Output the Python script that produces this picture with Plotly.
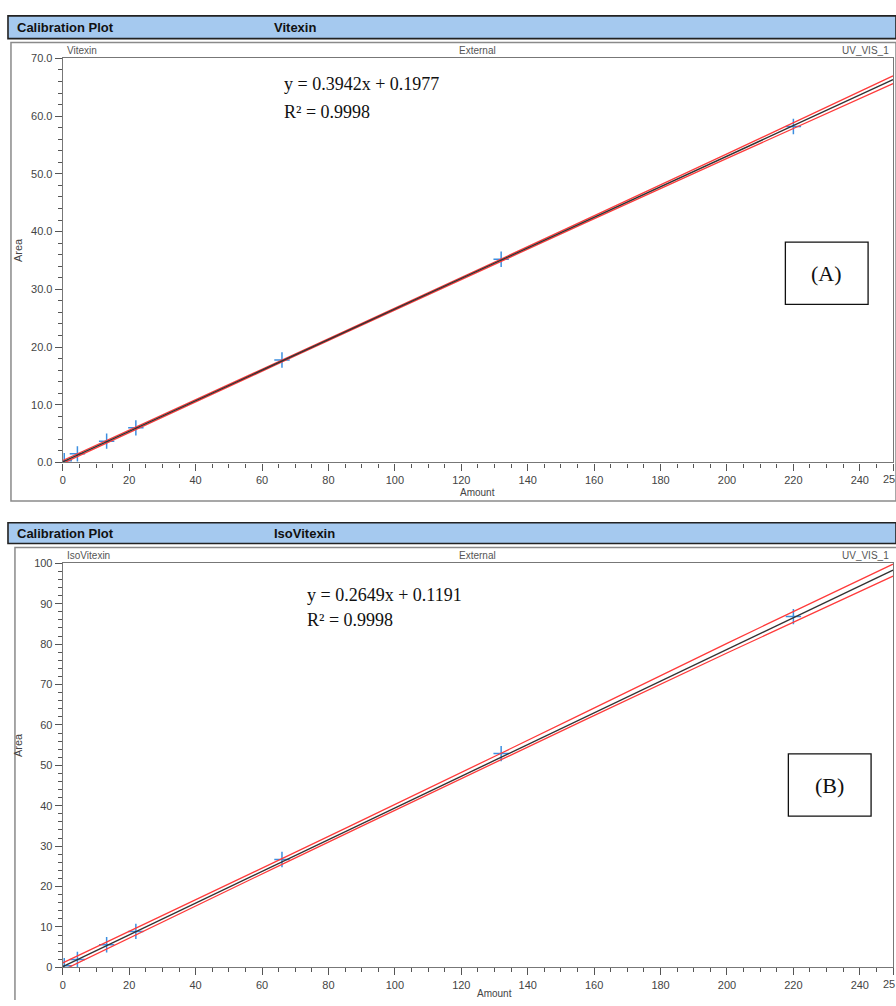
import plotly.graph_objects as go

W, H = 896, 1006

# ---------------- data ----------------
amount_pts = [0.44, 4.4, 13.2, 22.0, 66.0, 132.0, 220.0]
area_top = [0.3, 1.5, 3.7, 6.0, 17.75, 35.2, 58.2]
area_bot = [0.4, 1.96, 5.6, 8.9, 26.7, 52.9, 86.8]

fit_x = [0, 250]
fit_top = [0.10, 66.3]
fit_bot = [0.20, 98.3]

band_x = [0, 66, 132, 200, 250]
top_upper = [0.35, 17.75, 35.25, 53.45, 66.98]
top_lower = [-0.15, 17.41, 34.85, 52.67, 65.62]
bot_upper = [1.10, 26.90, 53.00, 80.20, 99.80]
bot_lower = [-0.70, 25.50, 51.40, 77.80, 96.80]

x_ticks = [0, 20, 40, 60, 80, 100, 120, 140, 160, 180, 200, 220, 240, 250]
x_ticktext = ["0", "20", "40", "60", "80", "100", "120", "140", "160", "180", "200",
              "220", "240", ""]
x_edge_label = "25"   # the 250 label, clipped by the page edge in the source
y_ticks_top = [0, 10, 20, 30, 40, 50, 60, 70]
y_ticks_bot = [0, 10, 20, 30, 40, 50, 60, 70, 80, 90, 100]

panels = [
    dict(name="Vitexin", eq="y = 0.3942x + 0.1977", r2="R² = 0.9998", tag="(A)"),
    dict(name="IsoVitexin", eq="y = 0.2649x + 0.1191", r2="R² = 0.9998", tag="(B)"),
]

def px(x):
    return x / W

def py(y):
    return 1 - y / H

fig = go.Figure()

geo = [
    dict(bar=(5, 10, 33), box=(8, 37, 501), top=53, bot=462, xlab=(476, 492),
         arealab=247, eq=(280, 79, 107), tagbox=(785, 239, 868, 302)),
    dict(bar=(5, 523, 544), box=(12, 548, 1010), top=564, bot=973, xlab=(493, 1006),
         arealab=748, eq=(303, 596, 621), tagbox=(788, 757, 871, 820)),
]

tickfont = dict(family="Liberation Sans, Arial", size=11, color="#444")
cross_col = "#3d8fe0"
red = "#ff3b3b"

series = [(area_top, fit_top, top_upper, top_lower, y_ticks_top, [0, 70], ".1f"),
          (area_bot, fit_bot, bot_upper, bot_lower, y_ticks_bot, [0, 100], "d")]

shapes = []
annotations = []

for i, (p, g, s) in enumerate(zip(panels, geo, series)):
    area, fit, up, lo, yt, yr, fmt = s
    xa = "x" if i == 0 else "x2"
    ya = "y" if i == 0 else "y2"
    fig.add_trace(go.Scatter(x=amount_pts, y=area, mode="markers", xaxis=xa, yaxis=ya,
                             marker=dict(symbol="cross-thin-open", size=11, color=cross_col,
                                         line=dict(color=cross_col, width=1.5)),
                             showlegend=False, hoverinfo="skip"))
    fig.add_trace(go.Scatter(x=band_x, y=up, mode="lines", xaxis=xa, yaxis=ya,
                             line=dict(color=red, width=1.3, shape="spline"),
                             showlegend=False, hoverinfo="skip"))
    fig.add_trace(go.Scatter(x=band_x, y=lo, mode="lines", xaxis=xa, yaxis=ya,
                             line=dict(color=red, width=1.3, shape="spline"),
                             showlegend=False, hoverinfo="skip"))
    fig.add_trace(go.Scatter(x=fit_x, y=fit, mode="lines", xaxis=xa, yaxis=ya,
                             line=dict(color="#333", width=1.4),
                             showlegend=False, hoverinfo="skip"))

    xdom = [px(60), px(893)]
    ydom = [py(g["bot"]), py(g["top"])]
    axkw = dict(showline=True, linecolor="#777", linewidth=1.2, mirror=True,
                ticks="outside", ticklen=7, tickwidth=1, tickcolor="#555",
                showgrid=False, zeroline=False, tickfont=tickfont)
    xaxis = dict(domain=xdom, range=[0, 250], tickmode="array", tickvals=x_ticks,
                 ticktext=x_ticktext, anchor=ya,
                 minor=dict(dtick=5, tick0=0, ticks="outside", ticklen=4,
                            tickcolor="#555", showgrid=False), **axkw)
    yaxis = dict(domain=ydom, range=yr, tickmode="array", tickvals=yt,
                 ticktext=[format(v, fmt) if fmt != "d" else str(v) for v in yt],
                 anchor=xa,
                 minor=dict(dtick=2, tick0=0, ticks="outside", ticklen=4,
                            tickcolor="#555", showgrid=False), **axkw)
    if i == 0:
        fig.update_layout(xaxis=xaxis, yaxis=yaxis)
    else:
        fig.update_layout(xaxis2=xaxis, yaxis2=yaxis)

    shapes.append(dict(type="line", xref=xa, xsizemode="pixel", xanchor=0, x0=-3, x1=-3,
                       yref=ya + " domain", y0=0, y1=1, line=dict(color="#777", width=1.2)))
    shapes.append(dict(type="line", yref=ya, ysizemode="pixel", yanchor=0, y0=-3, y1=-3,
                       xref=xa + " domain", x0=-0.004, x1=1, line=dict(color="#777", width=1.2)))

    bx, by0, by1 = g["bar"]
    shapes.append(dict(type="rect", xref="paper", yref="paper", x0=px(bx), x1=1.0,
                       y0=py(by1), y1=py(by0), fillcolor="#a5c9ef",
                       line=dict(color="#222", width=1.6), layer="below"))
    ox, oy0, oy1 = g["box"]
    if oy1 > H:
        shapes.append(dict(type="path", xref="paper", yref="paper",
                           path="M %f,0 L %f,%f L 1,%f" % (px(ox), px(ox), py(oy0), py(oy0)),
                           line=dict(color="#8a8a8a", width=1.5), layer="below"))
    else:
        shapes.append(dict(type="rect", xref="paper", yref="paper", x0=px(ox), x1=1.0,
                           y0=py(oy1), y1=py(oy0), line=dict(color="#8a8a8a", width=1.5),
                           layer="below"))
    tx0, ty0, tx1, ty1 = g["tagbox"]
    shapes.append(dict(type="rect", xref="paper", yref="paper", x0=px(tx0), x1=px(tx1),
                       y0=py(ty1), y1=py(ty0), line=dict(color="#111", width=1.3),
                       fillcolor="white"))

    ymid = (by0 + by1) / 2
    hdr = dict(family="Liberation Sans, Arial", size=13, color="#111")
    annotations += [
        dict(text="<b>Calibration Plot</b>", x=px(bx + 7), y=py(ymid), xanchor="left",
             yanchor="middle", font=hdr),
        dict(text="<b>%s</b>" % p["name"], x=px(270), y=py(ymid), xanchor="left",
             yanchor="middle", font=hdr),
    ]
    small = dict(family="Liberation Sans, Arial", size=10, color="#555")
    ly = g["top"] - 8
    amount_anchor = "middle" if i == 0 else "bottom"
    annotations += [
        dict(text=p["name"], x=px(62), y=py(ly), xanchor="left", yanchor="middle", font=small),
        dict(text="External", x=px(476), y=py(ly), xanchor="center", yanchor="middle", font=small),
        dict(text="UV_VIS_1", x=px(891), y=py(ly), xanchor="right", yanchor="middle", font=small),
        dict(text="Amount", x=px(g["xlab"][0]), y=py(g["xlab"][1]), xanchor="center",
             yanchor=amount_anchor, borderpad=0,
             font=dict(family="Liberation Sans, Arial", size=10, color="#444")),
        dict(text="Area", x=px(15), y=py(g["arealab"]), xanchor="center", yanchor="middle",
             textangle=-90, font=dict(family="Liberation Sans, Arial", size=11, color="#444")),
        dict(text=x_edge_label, x=1.0, y=py(g["bot"] + 17), xanchor="right", yanchor="middle",
             xshift=1, font=tickfont),
    ]
    serif = dict(family="Liberation Serif, Times New Roman", size=18, color="#111")
    ex, ey1, ey2 = g["eq"]
    annotations += [
        dict(text=p["eq"], x=px(ex), y=py(ey1), xanchor="left", yanchor="middle", font=serif),
        dict(text=p["r2"], x=px(ex), y=py(ey2), xanchor="left", yanchor="middle", font=serif),
        dict(text=p["tag"], x=px((tx0 + tx1) / 2), y=py((ty0 + ty1) / 2), xanchor="center",
             yanchor="middle", font=dict(family="Liberation Serif, Times New Roman", size=22,
                                         color="#111")),
    ]

for a in annotations:
    a.setdefault("xref", "paper")
    a.setdefault("yref", "paper")
    a.setdefault("showarrow", False)

fig.update_layout(width=W, height=H, margin=dict(l=0, r=0, t=0, b=0),
                  paper_bgcolor="white", plot_bgcolor="white",
                  shapes=shapes, annotations=annotations, showlegend=False)

fig.write_html("out.html", config={"displayModeBar": False},
               post_script=("document.documentElement.style.margin='0';"
                            "document.documentElement.style.overflow='hidden';"
                            "document.body.style.margin='0';"
                            "document.body.style.padding='0';"
                            "document.body.style.overflow='hidden';"))
